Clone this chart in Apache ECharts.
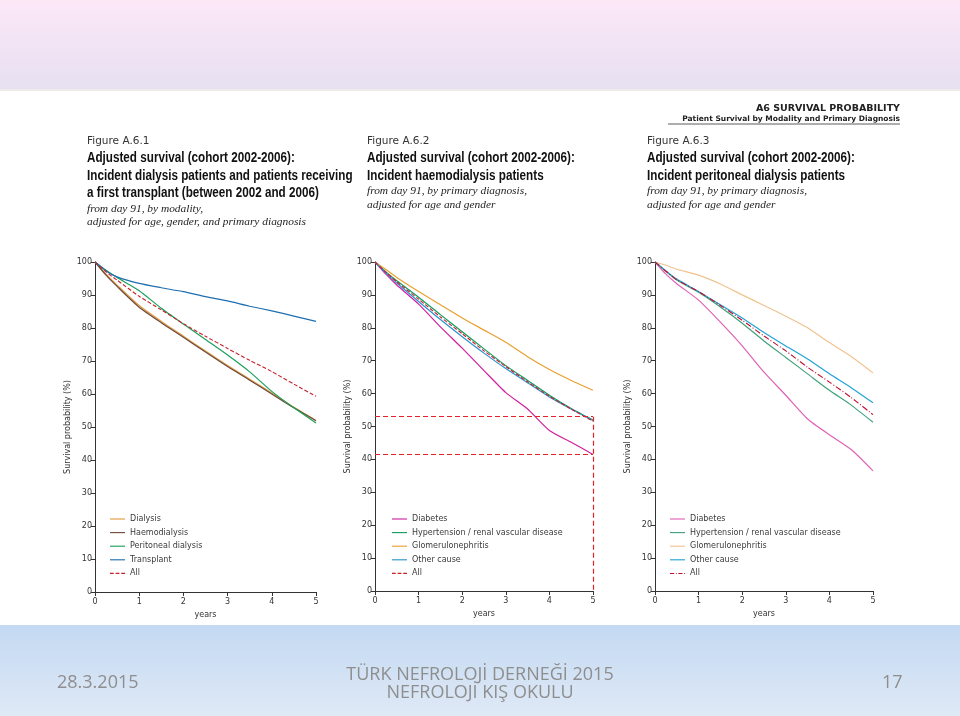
<!DOCTYPE html>
<html><head><meta charset="utf-8">
<script src="https://cdn.jsdelivr.net/npm/echarts@6/dist/echarts.min.js"></script>
<style>html,body{margin:0;padding:0;background:#fff}#c{width:960px;height:716px}</style>
</head><body><div id="c"></div>
<script>
// ---- data ----
var years = [0, 0.25, 0.5, 1, 1.5, 2, 2.5, 3, 3.5, 4, 4.5, 5];

// Figure A.6.1 – by modality
var f1Names = ['Dialysis','Haemodialysis','Peritoneal dialysis','Transplant','All'];
var f1Dialysis   = [100, 96.3, 93.0, 86.8, 82.0, 77.5, 73.0, 68.6, 64.5, 60.3, 56.0, 52.0];
var f1Haemo      = [100, 96.0, 92.6, 86.3, 81.6, 77.2, 72.7, 68.3, 64.2, 60.0, 55.8, 51.9];
var f1Peritoneal = [100, 97.5, 95.3, 91.3, 86.0, 81.2, 76.5, 71.8, 66.7, 60.8, 55.8, 51.2];
var f1Transplant = [100, 97.3, 95.5, 93.5, 92.2, 91.0, 89.5, 88.2, 86.6, 85.2, 83.6, 82.0];
var f1All        = [100, 97.0, 94.5, 89.6, 85.5, 81.3, 77.5, 73.8, 70.2, 66.8, 63.0, 59.3];

// Figure A.6.2 – haemodialysis, by primary diagnosis
var diagNames = ['Diabetes','Hypertension / renal vascular disease','Glomerulonephritis','Other cause','All'];
var f2Diabetes = [100, 96.3, 93.0, 87.2, 80.3, 73.8, 67.0, 60.3, 55.3, 48.8, 45.2, 41.5];
var f2Hyper    = [100, 97.0, 94.3, 89.3, 84.0, 78.8, 73.6, 68.5, 64.0, 59.5, 55.5, 52.0];
var f2Glomer   = [100, 97.7, 95.3, 91.0, 87.0, 83.0, 79.3, 75.6, 71.2, 67.3, 64.0, 61.0];
var f2Other    = [100, 96.7, 93.6, 88.0, 82.5, 77.3, 72.3, 67.6, 63.3, 59.0, 55.3, 51.8];
var f2All      = [100, 96.9, 94.0, 88.7, 83.3, 78.2, 73.0, 68.2, 63.6, 59.2, 55.3, 51.6];
var f2RefLevels = [53, 41.5];
var f2RefYear = 5;

// Figure A.6.3 – peritoneal dialysis, by primary diagnosis
var f3Diabetes = [100, 96.3, 93.4, 88.4, 81.7, 74.5, 66.5, 59.5, 52.3, 47.5, 43.0, 36.5];
var f3Hyper    = [100, 97.2, 94.5, 90.8, 86.3, 81.4, 76.0, 71.0, 66.0, 61.0, 56.5, 51.3];
var f3Glomer   = [100, 99.0, 97.8, 96.0, 93.3, 90.0, 86.8, 83.5, 80.0, 75.5, 71.3, 66.3];
var f3Other    = [100, 97.3, 94.8, 91.0, 87.0, 83.0, 78.6, 74.5, 70.5, 66.0, 61.8, 57.2];
var f3All      = [100, 97.2, 94.6, 91.0, 86.8, 82.3, 77.5, 73.0, 68.0, 63.5, 58.8, 53.6];

// ---- helpers ----
function pairs(v){ return years.map(function(x,i){ return [x, v[i]]; }); }
var axisFont = 'DejaVu Sans';
function mkX(i){
  return {gridIndex:i, type:'value', min:0, max:5, interval:1,
    name:'years', nameLocation:'middle', nameGap:19,
    nameTextStyle:{fontFamily:axisFont, fontSize:8, color:'#333'},
    axisLine:{lineStyle:{color:'#333', width:1}},
    axisTick:{length:4, lineStyle:{color:'#333'}},
    axisLabel:{fontFamily:axisFont, fontSize:8, color:'#333', margin:6},
    splitLine:{show:false}};
}
function mkY(i){
  return {gridIndex:i, type:'value', min:0, max:100, interval:10,
    name:'Survival probability (%)', nameLocation:'middle', nameGap:23,
    nameTextStyle:{fontFamily:axisFont, fontSize:8, color:'#333'},
    axisLine:{show:true, lineStyle:{color:'#333', width:1}},
    axisTick:{show:true, length:4, lineStyle:{color:'#333'}},
    axisLabel:{fontFamily:axisFont, fontSize:8, color:'#333', margin:3},
    splitLine:{show:false}};
}
function mkS(name, vals, g, color, type, width){
  return {name:name, type:'line', xAxisIndex:g, yAxisIndex:g, data:pairs(vals),
    showSymbol:false, symbol:'none', smooth:0.2, animation:false,
    lineStyle:{color:color, width:width||1.2, type:type||'solid'},
    itemStyle:{color:color}};
}

var series = [];
series.push(mkS('Dialysis', f1Dialysis, 0, '#e39a3c'));
series.push(mkS('Haemodialysis', f1Haemo, 0, '#6e4a3c'));
series.push(mkS('Peritoneal dialysis', f1Peritoneal, 0, '#19a05a'));
series.push(mkS('Transplant', f1Transplant, 0, '#1f6fb0'));
series.push(mkS('All', f1All, 0, '#c8202a', [4,2], 1.1));

series.push(mkS('Diabetes', f2Diabetes, 1, '#d01fa0'));
series.push(mkS('Hypertension / renal vascular disease', f2Hyper, 1, '#119e60'));
series.push(mkS('Glomerulonephritis', f2Glomer, 1, '#e8a030'));
series.push(mkS('Other cause', f2Other, 1, '#2a93d0'));
series.push(mkS('All', f2All, 1, '#cc1f2a', [4,2], 1.1));
series.push({name:'ref', type:'line', xAxisIndex:1, yAxisIndex:1, data:[], animation:false, silent:true,
  markLine:{symbol:'none', silent:true, animation:false, label:{show:false},
    lineStyle:{color:'#e0242a', width:1.2, type:[5,3]},
    data: f2RefLevels.map(function(v){ return [{coord:[0,v]},{coord:[f2RefYear,v]}]; })
      .concat([[{coord:[f2RefYear, f2RefLevels[0]]},{coord:[f2RefYear,0]}]])}});

series.push(mkS('Diabetes', f3Diabetes, 2, '#e062b4'));
series.push(mkS('Hypertension / renal vascular disease', f3Hyper, 2, '#3fa27a'));
series.push(mkS('Glomerulonephritis', f3Glomer, 2, '#f0c38e'));
series.push(mkS('Other cause', f3Other, 2, '#23a3d6'));
series.push(mkS('All', f3All, 2, '#c01030', [6,2,1,2], 1.1));

var prefixes = ['a|','b|','c|'];
series.forEach(function(s){ if(s.name!=='ref'){ s.name = prefixes[s.xAxisIndex] + s.name; } });

var iconSolid = 'path://M0,0H16V1.2H0Z';
var iconDash = 'path://M0,0H4V1.2H0Z M6,0H10V1.2H6Z M12,0H16V1.2H12Z';
var iconDashDot = 'path://M0,0H5V1.2H0Z M7,0H8V1.2H7Z M10,0H15V1.2H10Z M17,0H18V1.2H17Z';
function legendFor(names, idx, left, lastIcon){
  return {show:true, orient:'vertical', left:left, top:509, itemWidth:15, itemHeight:1.2,
    itemGap:3.6,
    data:names.map(function(n,i){ return {name:prefixes[idx]+n, icon: i===names.length-1 ? lastIcon : iconSolid}; }),
    formatter:function(n){ return n.slice(2); },
    textStyle:{fontFamily:axisFont, fontSize:8, color:'#3a3a3a', lineHeight:10, padding:[0,0,0,0]}};
}

var boldFont = 'bold 14.5px "Liberation Sans", Arial, sans-serif';
function txt(x,y,s,font,fill,sx){
  return {type:'text', x:x, y:y, scaleX:sx||1, silent:true, z:10,
    style:{text:s, font:font, fill:fill, textVerticalAlign:'top', verticalAlign:'top'}};
}
function figBlock(x, b){
  var g = [], y = b.y0;
  g.push(txt(x, y, b.fig, '10.5px "DejaVu Sans"', '#333'));
  y += 14.5;
  b.bold.forEach(function(t){ g.push(txt(x, y, t, boldFont, '#111', 0.806)); y += 17.5; });
  b.ital.forEach(function(t){ g.push(txt(x, y, t, 'italic 11.4px "Liberation Serif", serif', '#222')); y += 13.5; });
  return g;
}
var footFont = '18px "Open Sans", "DejaVu Sans", sans-serif';
var graphics = [
  {type:'rect', shape:{x:0,y:0,width:960,height:89}, z:-10, silent:true,
   style:{fill:new echarts.graphic.LinearGradient(0,0,0,1,[{offset:0,color:'#fce7f7'},{offset:1,color:'#e6e0f1'}])}},
  {type:'rect', shape:{x:0,y:89,width:960,height:2}, z:-10, silent:true, style:{fill:'#ecebea'}},
  {type:'rect', shape:{x:0,y:625,width:960,height:91}, z:-10, silent:true,
   style:{fill:new echarts.graphic.LinearGradient(0,0,0,1,[{offset:0,color:'#c3d9f2'},{offset:1,color:'#dfe9f6'}])}},
  {type:'text', right:60, top:104, silent:true, style:{text:'A6 SURVIVAL PROBABILITY', font:'bold 9.5px "DejaVu Sans"', fill:'#222'}},
  {type:'text', right:60, top:115, silent:true, style:{text:'Patient Survival by Modality and Primary Diagnosis', font:'bold 7.5px "DejaVu Sans"', fill:'#222'}},
  {type:'line', shape:{x1:668,y1:124,x2:900,y2:124}, silent:true, style:{stroke:'#333', lineWidth:0.8}},
  {type:'text', x:57, y:683, silent:true, style:{text:'28.3.2015', font:footFont, fill:'#8e8e8e', textVerticalAlign:'middle', verticalAlign:'middle'}},
  {type:'text', x:480, y:675, silent:true, style:{text:'TÜRK NEFROLOJİ DERNEĞİ 2015', font:footFont, fill:'#8e8e8e', align:'center', textAlign:'center', verticalAlign:'middle', textVerticalAlign:'middle'}},
  {type:'text', x:480, y:693, silent:true, style:{text:'NEFROLOJİ KIŞ OKULU', font:footFont, fill:'#8e8e8e', align:'center', textAlign:'center', verticalAlign:'middle', textVerticalAlign:'middle'}},
  {type:'text', x:882, y:683, silent:true, style:{text:'17', font:footFont, fill:'#8e8e8e', textVerticalAlign:'middle', verticalAlign:'middle'}}
];
graphics = graphics.concat(figBlock(87, {y0:136, fig:'Figure A.6.1',
  bold:['Adjusted survival (cohort 2002-2006):','Incident dialysis patients and patients receiving','a first transplant (between 2002 and 2006)'],
  ital:['from day 91, by modality,','adjusted for age, gender, and primary diagnosis']}));
graphics = graphics.concat(figBlock(367, {y0:136, fig:'Figure A.6.2',
  bold:['Adjusted survival (cohort 2002-2006):','Incident haemodialysis patients'],
  ital:['from day 91, by primary diagnosis,','adjusted for age and gender']}));
graphics = graphics.concat(figBlock(647, {y0:136, fig:'Figure A.6.3',
  bold:['Adjusted survival (cohort 2002-2006):','Incident peritoneal dialysis patients'],
  ital:['from day 91, by primary diagnosis,','adjusted for age and gender']}));

var option = {
  backgroundColor:'#ffffff',
  animation:false,
  grid:[
    {left:95, top:262, width:221, height:330},
    {left:375, top:262, width:218, height:329},
    {left:655, top:262, width:218, height:329}
  ],
  xAxis:[mkX(0), mkX(1), mkX(2)],
  yAxis:[mkY(0), mkY(1), mkY(2)],
  legend:[legendFor(f1Names,0,105,iconDash), legendFor(diagNames,1,387,iconDash), legendFor(diagNames,2,665,iconDashDot)],
  series:series,
  graphic:graphics
};
var chart = echarts.init(document.getElementById('c'), null, {renderer:'canvas'});
chart.setOption(option);
</script></body></html>
